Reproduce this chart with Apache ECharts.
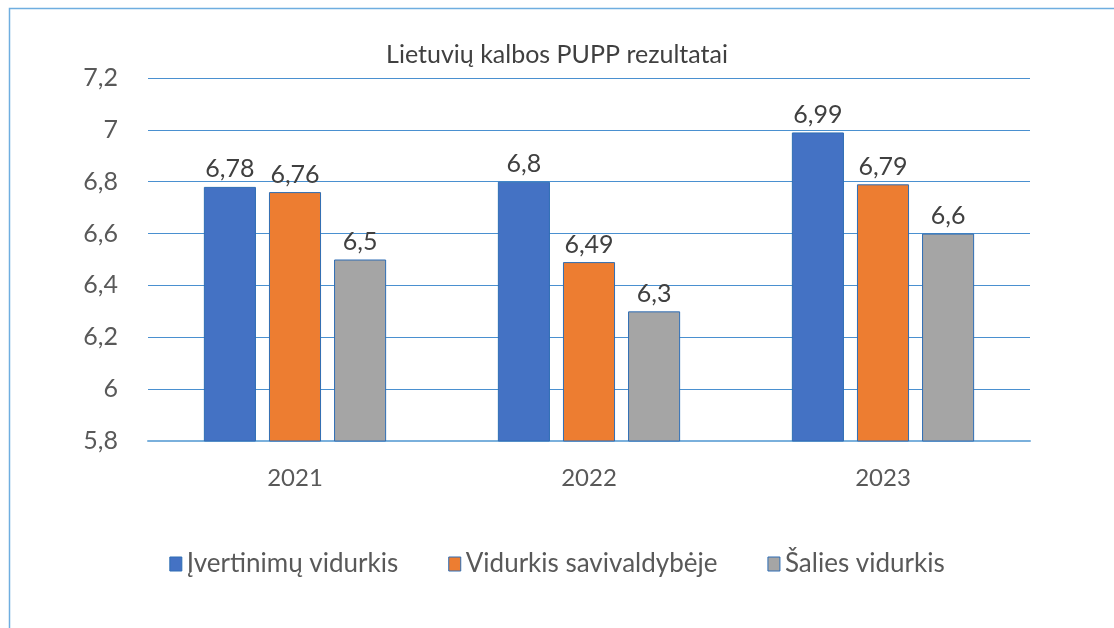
<!DOCTYPE html>
<html><head><meta charset="utf-8">
<script src="https://cdn.jsdelivr.net/npm/echarts@6/dist/echarts.min.js"></script>
<style>html,body{margin:0;padding:0;background:#fff}#c{width:1114px;height:628px}</style>
</head><body><div id="c"></div>
<script>
const title = 'Lietuvių kalbos PUPP rezultatai';
const categories = ['2021', '2022', '2023'];
const seriesNames = ['Įvertinimų vidurkis', 'Vidurkis savivaldybėje', 'Šalies vidurkis'];
const ivertinimu = [6.78, 6.8, 6.99];
const savivaldybeje = [6.76, 6.49, 6.79];
const salies = [6.5, 6.3, 6.6];
const colors = ['#4472C4', '#ED7D31', '#A5A5A5'];
const FONT = 'Lato, "Open Sans", sans-serif';
const fmt = v => String(+(+v).toFixed(2)).replace('.', ',');
const chart = echarts.init(document.getElementById('c'));
const mk = (name, data, color) => ({
  name, type: 'bar', data, barGap: '25%', barCategoryGap: '38%',
  itemStyle: { color, borderColor: '#2E6DB4', borderWidth: 1 },
  label: { show: true, position: 'top', distance: 5, color: '#404040', fontSize: 25, fontFamily: FONT, formatter: p => fmt(p.value) }
});
chart.setOption({
  animation: false,
  title: { text: title, left: 'center', top: 37, textStyle: { fontSize: 25, fontWeight: 'normal', color: '#404040', fontFamily: FONT } },
  grid: { left: 148, right: 84, top: 78, bottom: 187, containLabel: false },
  legend: { bottom: 46, left: 'center', itemWidth: 12, itemHeight: 14, itemGap: 50,
    icon: 'rect', textStyle: { fontSize: 26, color: '#595959', fontFamily: FONT },
    itemStyle: { borderColor: '#2E6DB4', borderWidth: 1 } },
  xAxis: { type: 'category', data: categories,
    axisLine: { lineStyle: { color: '#7AB0DC', width: 2 } }, axisTick: { show: false },
    axisLabel: { color: '#595959', fontSize: 24, fontFamily: FONT, margin: 25 } },
  yAxis: { type: 'value', min: 5.8, max: 7.2, interval: 0.2,
    axisLine: { show: false }, axisTick: { show: false },
    splitLine: { lineStyle: { color: '#4A90D0', width: 1 } },
    axisLabel: { color: '#595959', fontSize: 25, fontFamily: FONT, margin: 30, formatter: v => fmt(v) } },
  graphic: [{ type: 'rect', left: 7, top: 6, shape: { width: 1120, height: 640 }, style: { fill: 'none', stroke: '#6FAEE0', lineWidth: 1.5 }, silent: true }],
  series: [mk(seriesNames[0], ivertinimu, colors[0]), mk(seriesNames[1], savivaldybeje, colors[1]), mk(seriesNames[2], salies, colors[2])]
});
</script></body></html>
